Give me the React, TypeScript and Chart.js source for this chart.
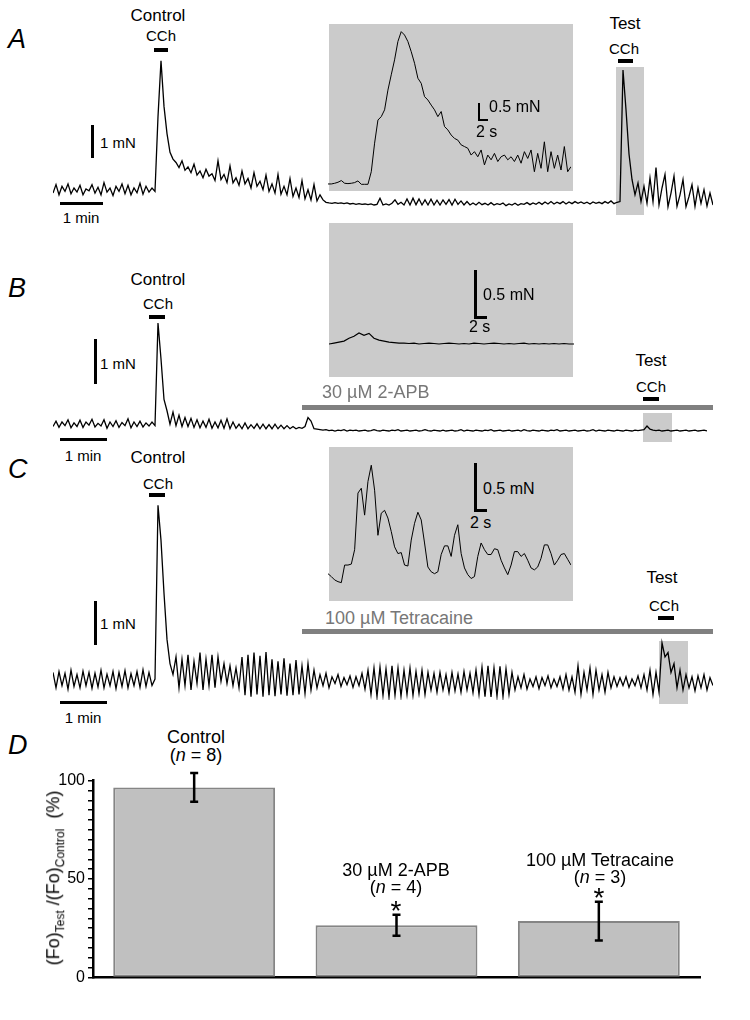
import React, { useEffect, useRef } from 'react';
import { Chart, registerables } from 'chart.js';

Chart.register(...registerables);

const FONT = '"Liberation Sans", Arial, Helvetica, sans-serif';

// ---------- Trace data (force in mN, uniformly sampled) ----------
const traceA = [
  0.35, 0.6, 0.3, 0.55, 0.4, 0.62, 0.33, 0.5, 0.38, 0.58,
  0.3, 0.47, 0.42, 0.6, 0.35, 0.52, 0.3, 0.66, 0.38, 0.5,
  0.28, 0.55, 0.4, 0.62, 0.33, 0.58, 0.3, 0.5, 0.36, 0.64,
  0.32, 0.55, 0.38, 0.5, 0.4, 2.6, 4.24, 2.9, 2.1, 1.55,
  1.35, 1.25, 1.1, 1.3, 1.02, 1.12, 0.95, 1.2, 0.88, 1.0,
  0.8, 1.05, 0.85, 0.92, 0.72, 1.3, 0.75, 0.9, 0.66, 1.15,
  0.65, 0.8, 0.58, 1.0, 0.62, 0.78, 0.5, 0.95, 0.55, 0.7,
  0.45, 0.88, 0.4, 0.62, 0.35, 0.9, 0.32, 0.55, 0.3, 0.78,
  0.25, 0.5, 0.22, 0.72, 0.18, 0.45, 0.15, 0.6, 0.12, 0.3,
  0.15, 0.08, 0.06, 0.05, 0.07, 0.05, 0.06, 0.04, 0.06, 0.03,
  0.05, 0.02, 0.04, 0.02, 0.03, 0.01, 0.03, 0.0, 0.02, 0.2,
  0.0, 0.03, 0.0, 0.05, 0.15, 0.02, 0.08, 0.0, 0.18, 0.0,
  0.2, 0.01, 0.18, 0.0, 0.15, 0.0, 0.17, 0.0, 0.14, 0.0,
  0.15, 0.02, 0.16, 0.0, 0.17, 0.02, 0.12, 0.0, 0.1, 0.0,
  0.06, 0.0, 0.08, 0.01, 0.05, 0.0, 0.07, 0.0, 0.04, 0.01,
  0.06, -0.02, 0.03, 0.0, 0.05, -0.01, 0.04, 0.02, 0.07, 0.01,
  0.06, 0.02, 0.08, 0.02, 0.09, 0.03, 0.1, 0.03, 0.08, 0.04,
  0.1, 0.03, 0.09, 0.04, 0.1, 0.05, 0.09, 0.04, 0.08, 0.03,
  0.09, 0.05, 0.08, 0.04, 0.1, 0.05, 0.12, 0.04, 0.08, 0.1,
  3.97, 2.8, 1.5, 0.75, 0.3, 0.65, 0.1, 0.55, 0.05, 0.8,
  0.1, 1.1, 0.0, 0.5, 0.9, -0.05, 0.35, 0.85, -0.04, 0.3,
  0.75, -0.05, 0.25, 0.6, -0.04, 0.5, 0.05, 0.45, -0.03, 0.35,
  0.0,
];

const insetA = [
  0.01, 0.01, 0.03, 0.06, 0.11, 0.03, 0.02, 0.03, 0.05, 0.1,
  0, 0, 0, 0.37, 1.21, 1.89, 1.99, 2.19, 2.77, 3.22,
  3.66, 4.2, 4.49, 4.39, 4.2, 3.9, 3.56, 3.12, 2.97, 2.58,
  2.48, 2.33, 2.19, 1.99, 2.14, 1.7, 1.6, 1.45, 1.35, 1.3,
  1.16, 1.11, 1.06, 0.86, 0.96, 0.81, 1.01, 0.57, 0.86, 0.72,
  0.91, 0.67, 0.81, 0.86, 0.72, 0.81, 0.67, 0.86, 0.62, 0.96,
  0.76, 1.01, 0.37, 0.91, 0.47, 1.25, 0.37, 0.96, 0.47, 0.86,
  0.42, 1.11, 0.37, 0.52,
];

const traceB = [
  0.1, 0.22, 0.08, 0.2, 0.12, 0.25, 0.07, 0.18, 0.1, 0.24,
  0.08, 0.2, 0.13, 0.26, 0.09, 0.17, 0.11, 0.25, 0.06, 0.2,
  0.1, 0.23, 0.08, 0.19, 0.12, 0.27, 0.07, 0.2, 0.1, 0.22,
  0.09, 0.18, 0.11, 0.2, 0.12, 2.4, 1.6, 0.7, 0.45, 0.15,
  0.42, 0.12, 0.35, 0.1, 0.3, 0.1, 0.28, 0.08, 0.25, 0.07,
  0.22, 0.08, 0.26, 0.06, 0.2, 0.07, 0.24, 0.06, 0.27, 0.05,
  0.2, 0.06, 0.15, 0.05, 0.18, 0.05, 0.14, 0.06, 0.16, 0.05,
  0.15, 0.05, 0.14, 0.05, 0.15, 0.05, 0.13, 0.05, 0.12, 0.05,
  0.1, 0.05, 0.08, 0.06, 0.1, 0.3, 0.22, 0.05, 0.04, 0.03,
  0.02, 0.03, 0.01, 0.02, 0.0, 0.02, 0.01, 0.03, 0.0, 0.02,
  0.01, 0.02, 0.0, 0.01, 0.02, 0.0, 0.01, 0.03, 0.01, 0.0,
  0.02, 0.01, 0.0, 0.02, 0.01, 0.03, 0.0, 0.01, 0.02, 0.0,
  0.01, 0.02, 0.0, 0.01, 0.03, 0.01, 0.0, 0.02, 0.01, 0.0,
  0.02, 0.0, 0.01, 0.02, 0.0, 0.01, 0.03, 0.0, 0.02, 0.01,
  0.0, 0.02, 0.01, 0.0, 0.02, 0.01, 0.03, 0.0, 0.01, 0.02,
  0.0, 0.01, 0.02, 0.0, 0.01, 0.02, 0.0, 0.03, 0.01, 0.0,
  0.02, 0.01, 0.0, 0.02, 0.01, 0.0, 0.02, 0.01, 0.03, 0.0,
  0.01, 0.02, 0.0, 0.01, 0.02, 0.0, 0.01, 0.02, 0.0, 0.01,
  0.03, 0.0, 0.02, 0.01, 0.0, 0.02, 0.01, 0.0, 0.02, 0.01,
  0.0, 0.02, 0.01, 0.0, 0.02, 0.01, 0.02, 0.03, 0.11, 0.04,
  0.02, 0.01, 0.02, 0.0, 0.01, 0.02, 0.0, 0.01, 0.02, 0.0,
  0.01, 0.02, 0.0, 0.01, 0.02, 0.0, 0.01, 0.02, 0.0,
];

const insetB = [
  0.0, 0.01, 0.02, 0.03, 0.06, 0.08, 0.115, 0.09, 0.11, 0.06,
  0.04, 0.03, 0.02, 0.015, 0.01, 0.01, 0.005, 0.01, 0.0, 0.005,
  0.01, 0.005, 0.0, 0.005, 0.01, 0.005, 0.0, 0.005, 0.0, 0.01,
  0.005, 0.0, 0.005, 0.01, 0.005, 0.0, 0.005, 0.0, 0.005, 0.01,
  0.0, 0.005, 0.0, 0.005, 0.0, 0.005, 0.0, 0.005, 0.0, 0.0,
];

const traceC = [
  0.4, 0.05, 0.42, 0.1, 0.38, 0.02, 0.45, 0.08, 0.35, 0.05,
  0.43, 0.1, 0.4, 0.04, 0.38, 0.07, 0.45, 0.05, 0.36, 0.1,
  0.42, 0.03, 0.4, 0.08, 0.44, 0.05, 0.37, 0.1, 0.42, 0.06,
  0.46, 0.08, 0.4, 0.1, 0.25, 4.2, 3.4, 2.2, 1.15, 0.6,
  0.35, 0.75, 0.05, 0.7, 0.1, 0.8, 0.0, 0.65, 0.15, 0.85,
  0.0, 0.7, 0.1, 0.8, 0.05, 0.75, 0.2, 0.6, 0.15, 0.55,
  0.1, 0.5, 0.05, 0.75, -0.12, 0.8, -0.15, 0.85, -0.1, 0.78,
  -0.15, 0.86, -0.12, 0.7, -0.14, 0.65, -0.1, 0.72, -0.13, 0.6,
  -0.12, 0.68, -0.1, 0.55, -0.08, 0.6, 0.0, 0.45, 0.05, 0.35,
  0.1, 0.38, 0.05, 0.3, 0.15, 0.35, 0.08, 0.28, 0.12, 0.32,
  0.06, 0.3, 0.1, 0.38, 0.02, 0.45, -0.1, 0.5, -0.15, 0.52,
  -0.12, 0.48, -0.16, 0.55, -0.12, 0.5, -0.14, 0.45, -0.1, 0.5,
  -0.12, 0.42, -0.08, 0.45, -0.1, 0.4, 0.0, 0.38, -0.05, 0.4,
  0.0, 0.35, -0.06, 0.4, -0.02, 0.36, -0.05, 0.42, 0.0, 0.38,
  -0.06, 0.45, -0.1, 0.52, -0.15, 0.55, -0.16, 0.5, -0.14, 0.54,
  -0.15, 0.48, -0.1, 0.4, 0.0, 0.3, 0.05, 0.35, 0.02, 0.25,
  0.08, 0.3, 0.03, 0.28, 0.1, 0.32, 0.05, 0.25, 0.08, 0.3,
  0.02, 0.35, 0.0, 0.3, -0.05, 0.55, -0.1, 0.4, 0.0, 0.5,
  -0.1, 0.45, 0.0, 0.35, -0.05, 0.4, 0.05, 0.3, 0.08, 0.28,
  0.1, 0.3, 0.06, 0.25, 0.1, 0.32, 0.05, 0.35, 0.0, 0.45,
  -0.1, 0.4, -0.05, 1.07, 0.75, 0.85, 0.4, 0.6, 0.05, 0.45,
  0.0, 0.35, 0.05, 0.3, -0.02, 0.32, 0.05, 0.35, 0.0, 0.28,
  0.1,
];

const insetC = [
  0.1, 0.07, 0.035, 0.017, 0.007, 0.19, 0.19, 0.2, 0.35, 0.94,
  0.99, 0.71, 1.06, 1.23, 0.97, 0.5, 0.73, 0.76, 0.68, 0.54,
  0.38, 0.31, 0.32, 0.19, 0.18, 0.45, 0.625, 0.74, 0.66, 0.42,
  0.17, 0.12, 0.1, 0.12, 0.3, 0.39, 0.39, 0.28, 0.5, 0.61,
  0.31, 0.16, 0.09, 0.05, 0.07, 0.28, 0.42, 0.35, 0.3, 0.3,
  0.36, 0.35, 0.24, 0.16, 0.09, 0.19, 0.33, 0.33, 0.28, 0.31,
  0.24, 0.16, 0.14, 0.17, 0.26, 0.4, 0.4, 0.31, 0.19, 0.24,
  0.3, 0.31, 0.25, 0.19,
];

// ---------- Panel D data ----------
const barCategories = ['Control', '30 µM 2-APB', '100 µM Tetracaine'];
const barN = [8, 4, 3];
const barMeans = [96.5, 26.5, 28.6];
const barErrors = [7.3, 5.3, 9.8];
const barSignificant = [false, true, true];
const yTickLabels = [0, 50, 100];

// ---------- helpers ----------
function Trace(props: any) {
  const { values, left, top, width, height, zeroY, pxPerUnit, lineWidth = 1.2, color = '#000' } = props;
  const ref = useRef<HTMLCanvasElement>(null);
  useEffect(() => {
    const chart = new Chart(ref.current as HTMLCanvasElement, {
      type: 'line',
      data: {
        datasets: [
          {
            data: values.map((v: number, i: number) => ({ x: i, y: v })),
            borderColor: color,
            borderWidth: lineWidth,
            pointRadius: 0,
            tension: 0,
            fill: false,
          },
        ],
      },
      options: {
        animation: false,
        responsive: false,
        events: [],
        layout: { padding: 0 },
        plugins: { legend: { display: false }, tooltip: { enabled: false } },
        scales: {
          x: { type: 'linear', display: false, min: 0, max: values.length - 1 },
          y: {
            type: 'linear',
            display: false,
            min: -(top + height - zeroY) / pxPerUnit,
            max: (zeroY - top) / pxPerUnit,
          },
        },
      } as any,
    });
    return () => chart.destroy();
  }, []);
  return (
    <canvas
      ref={ref}
      width={width}
      height={height}
      style={{ position: 'absolute', left, top, width, height }}
    />
  );
}

function Box({ x, y, w, h, bg }: any) {
  return <div style={{ position: 'absolute', left: x, top: y, width: w, height: h, background: bg }} />;
}

function T({ x, y, children, size = 15, align = 'center', color = '#000', italic = false, bold = false }: any) {
  const tx = align === 'center' ? '-50%' : '0';
  return (
    <div
      style={{
        position: 'absolute',
        left: x,
        top: y,
        transform: `translate(${tx}, -50%)`,
        fontSize: size,
        lineHeight: 1,
        fontFamily: FONT,
        color,
        fontStyle: italic ? 'italic' : 'normal',
        fontWeight: bold ? 'bold' : 'normal',
        whiteSpace: 'nowrap',
      }}
    >
      {children}
    </div>
  );
}

const INSET_BG = '#cbcbcb';
const DRUG = '#808080';

function BarPanel() {
  const ref = useRef<HTMLCanvasElement>(null);
  useEffect(() => {
    const errPlugin = {
      id: 'errbars',
      afterDatasetsDraw(chart: any) {
        const meta = chart.getDatasetMeta(0);
        const ys = chart.scales.y;
        const ctx = chart.ctx;
        ctx.save();
        ctx.strokeStyle = '#000';
        ctx.lineWidth = 2.5;
        meta.data.forEach((el: any, i: number) => {
          const x = el.x;
          const t = ys.getPixelForValue(barMeans[i] + barErrors[i]);
          const b = ys.getPixelForValue(barMeans[i] - barErrors[i]);
          ctx.beginPath();
          ctx.moveTo(x, t);
          ctx.lineTo(x, b);
          ctx.moveTo(x - 4, t);
          ctx.lineTo(x + 4, t);
          ctx.moveTo(x - 4, b);
          ctx.lineTo(x + 4, b);
          ctx.stroke();
        });
        ctx.restore();
      },
    };
    const chart = new Chart(ref.current as HTMLCanvasElement, {
      type: 'bar',
      data: {
        labels: barCategories,
        datasets: [
          {
            data: barMeans,
            backgroundColor: '#c0c0c0',
            borderColor: '#858585',
            borderWidth: 2,
            borderSkipped: false,
            barPercentage: 0.8,
            categoryPercentage: 1.0,
          },
        ],
      },
      options: {
        animation: false,
        responsive: false,
        events: [],
        layout: { padding: { left: 0, right: 2, top: 12, bottom: 12 } },
        plugins: { legend: { display: false }, tooltip: { enabled: false } },
        scales: {
          x: {
            afterFit: (s: any) => {
              s.height = 0;
            },
            ticks: { display: false },
            grid: { display: false },
            border: { display: true, color: '#000', width: 2.5 },
          },
          y: {
            min: 0,
            max: 100,
            afterFit: (s: any) => {
              s.width = 43;
            },
            ticks: {
              stepSize: 5,
              autoSkip: false,
              color: '#000',
              padding: 3,
              font: { family: FONT, size: 16 },
              callback: (v: any) => (yTickLabels.includes(Number(v)) ? String(v) : ''),
            },
            grid: {
              display: true,
              drawOnChartArea: false,
              drawTicks: true,
              tickLength: 5,
              color: '#000',
              lineWidth: 1.5,
            },
            border: { display: true, color: '#000', width: 2.5 },
          },
        },
      } as any,
      plugins: [errPlugin],
    });
    return () => chart.destroy();
  }, []);
  return (
    <canvas
      ref={ref}
      width={652}
      height={222}
      style={{ position: 'absolute', left: 50, top: 768, width: 652, height: 222 }}
    />
  );
}

export default function App() {
  useEffect(() => {
    document.body.style.margin = '0';
  }, []);
  return (
    <div style={{ position: 'absolute', left: 0, top: 0, width: 750, height: 1020, background: '#fff', overflow: 'hidden' }}>
      {/* ---------- backgrounds ---------- */}
      <Box x={329} y={24} w={244} h={167} bg={INSET_BG} />
      <Box x={616} y={67} w={28} h={148} bg={INSET_BG} />
      <Box x={329} y={223} w={244} h={154} bg={INSET_BG} />
      <Box x={643} y={413} w={29} h={29} bg={INSET_BG} />
      <Box x={329} y={447} w={244} h={154} bg={INSET_BG} />
      <Box x={659} y={641} w={29} h={63} bg={INSET_BG} />

      {/* ---------- Panel A ---------- */}
      <T x={8} y={39} size={27} align="left" italic>A</T>
      <T x={158} y={15} size={17}>Control</T>
      <T x={161} y={35} size={15}>CCh</T>
      <Box x={154} y={48} w={14} h={4} bg="#000" />
      <Box x={91} y={125} w={3} h={33} bg="#000" />
      <T x={100} y={142} size={15} align="left">1 mN</T>
      <Box x={60} y={202} w={43} h={3} bg="#000" />
      <T x={81} y={217} size={15}>1 min</T>
      <T x={625} y={23} size={17}>Test</T>
      <T x={624} y={48} size={15}>CCh</T>
      <Box x={618} y={59} w={15} h={4} bg="#000" />
      <Trace values={traceA} left={53} top={55} width={660} height={160} zeroY={205} pxPerUnit={34} lineWidth={1.3} />
      <Trace values={insetA} left={328} top={24} width={243} height={167} zeroY={184.3} pxPerUnit={34} lineWidth={1} />
      <Box x={478} y={103} w={2} h={17} bg="#000" />
      <Box x={478} y={119} w={10} h={2} bg="#000" />
      <T x={489} y={107} size={16} align="left">0.5 mN</T>
      <T x={476} y={132} size={16} align="left">2 s</T>

      {/* ---------- Panel B ---------- */}
      <T x={8} y={288} size={27} align="left" italic>B</T>
      <T x={158} y={279} size={17}>Control</T>
      <T x={158} y={303} size={15}>CCh</T>
      <Box x={149} y={315} w={16} h={4} bg="#000" />
      <Box x={94} y={339} w={3} h={45} bg="#000" />
      <T x={100} y={363} size={15} align="left">1 mN</T>
      <Box x={60} y={438} w={47} h={3} bg="#000" />
      <T x={83} y={455} size={15}>1 min</T>
      <Box x={474} y={270} w={3} h={48} bg="#000" />
      <Box x={474} y={316} w={13} h={3} bg="#000" />
      <T x={483} y={295} size={16} align="left">0.5 mN</T>
      <T x={469} y={327} size={16} align="left">2 s</T>
      <Trace values={insetB} left={329} top={224} width={245} height={153} zeroY={344} pxPerUnit={96} lineWidth={1.2} />
      <T x={322} y={392} size={18} align="left" color="#777">30 µM 2-APB</T>
      <Box x={302} y={405} w={411} h={5} bg={DRUG} />
      <T x={651} y={360} size={17}>Test</T>
      <T x={651} y={386} size={15}>CCh</T>
      <Box x={643} y={397} w={16} h={4} bg="#000" />
      <Trace values={traceB} left={53} top={318} width={654} height={118} zeroY={431} pxPerUnit={45} lineWidth={1.3} />

      {/* ---------- Panel C ---------- */}
      <T x={8} y={469} size={27} align="left" italic>C</T>
      <T x={158} y={457} size={17}>Control</T>
      <T x={158} y={483} size={15}>CCh</T>
      <Box x={149} y={493} w={16} h={4} bg="#000" />
      <Box x={94} y={601} w={3} h={44} bg="#000" />
      <T x={100} y={623} size={15} align="left">1 mN</T>
      <Box x={60} y={701} w={47} h={3} bg="#000" />
      <T x={83} y={717} size={15}>1 min</T>
      <Box x={474} y={463} w={3} h={48} bg="#000" />
      <Box x={474} y={509} w={13} h={3} bg="#000" />
      <T x={483} y={489} size={16} align="left">0.5 mN</T>
      <T x={470} y={523} size={16} align="left">2 s</T>
      <Trace values={insetC} left={328} top={447} width={243} height={154} zeroY={583.3} pxPerUnit={96} lineWidth={1} />
      <T x={325} y={618} size={18} align="left" color="#777">100 µM Tetracaine</T>
      <Box x={302} y={629} w={411} h={5} bg={DRUG} />
      <T x={662} y={577} size={17}>Test</T>
      <T x={664} y={605} size={15}>CCh</T>
      <Box x={658} y={616} w={16} h={4} bg="#000" />
      <Trace values={traceC} left={53} top={500} width={660} height={200} zeroY={690} pxPerUnit={44} lineWidth={1.3} />

      {/* ---------- Panel D ---------- */}
      <T x={8} y={745} size={27} align="left" italic>D</T>
      <BarPanel />
      <div
        style={{
          position: 'absolute',
          left: 55,
          top: 878,
          transform: 'translate(-50%, -50%) rotate(-90deg)',
          fontFamily: FONT,
          fontSize: 18,
          lineHeight: 1,
          whiteSpace: 'nowrap',
        }}
      >
        (Fo)<sub style={{ fontSize: 12 }}>Test</sub> /(Fo)<sub style={{ fontSize: 12 }}>Control</sub>&nbsp;&nbsp;(%)
      </div>
      <T x={196} y={737} size={18}>{barCategories[0]}</T>
      <T x={196} y={755} size={18}>(<i>n</i> = {barN[0]})</T>
      <T x={396} y={870} size={18}>{barCategories[1]}</T>
      <T x={396} y={887} size={18}>(<i>n</i> = {barN[1]})</T>
      {barSignificant[1] && <T x={396} y={911} size={28}>*</T>}
      <T x={600} y={860} size={18}>{barCategories[2]}</T>
      <T x={600} y={877} size={18}>(<i>n</i> = {barN[2]})</T>
      {barSignificant[2] && <T x={599} y={898} size={28}>*</T>}
    </div>
  );
}
